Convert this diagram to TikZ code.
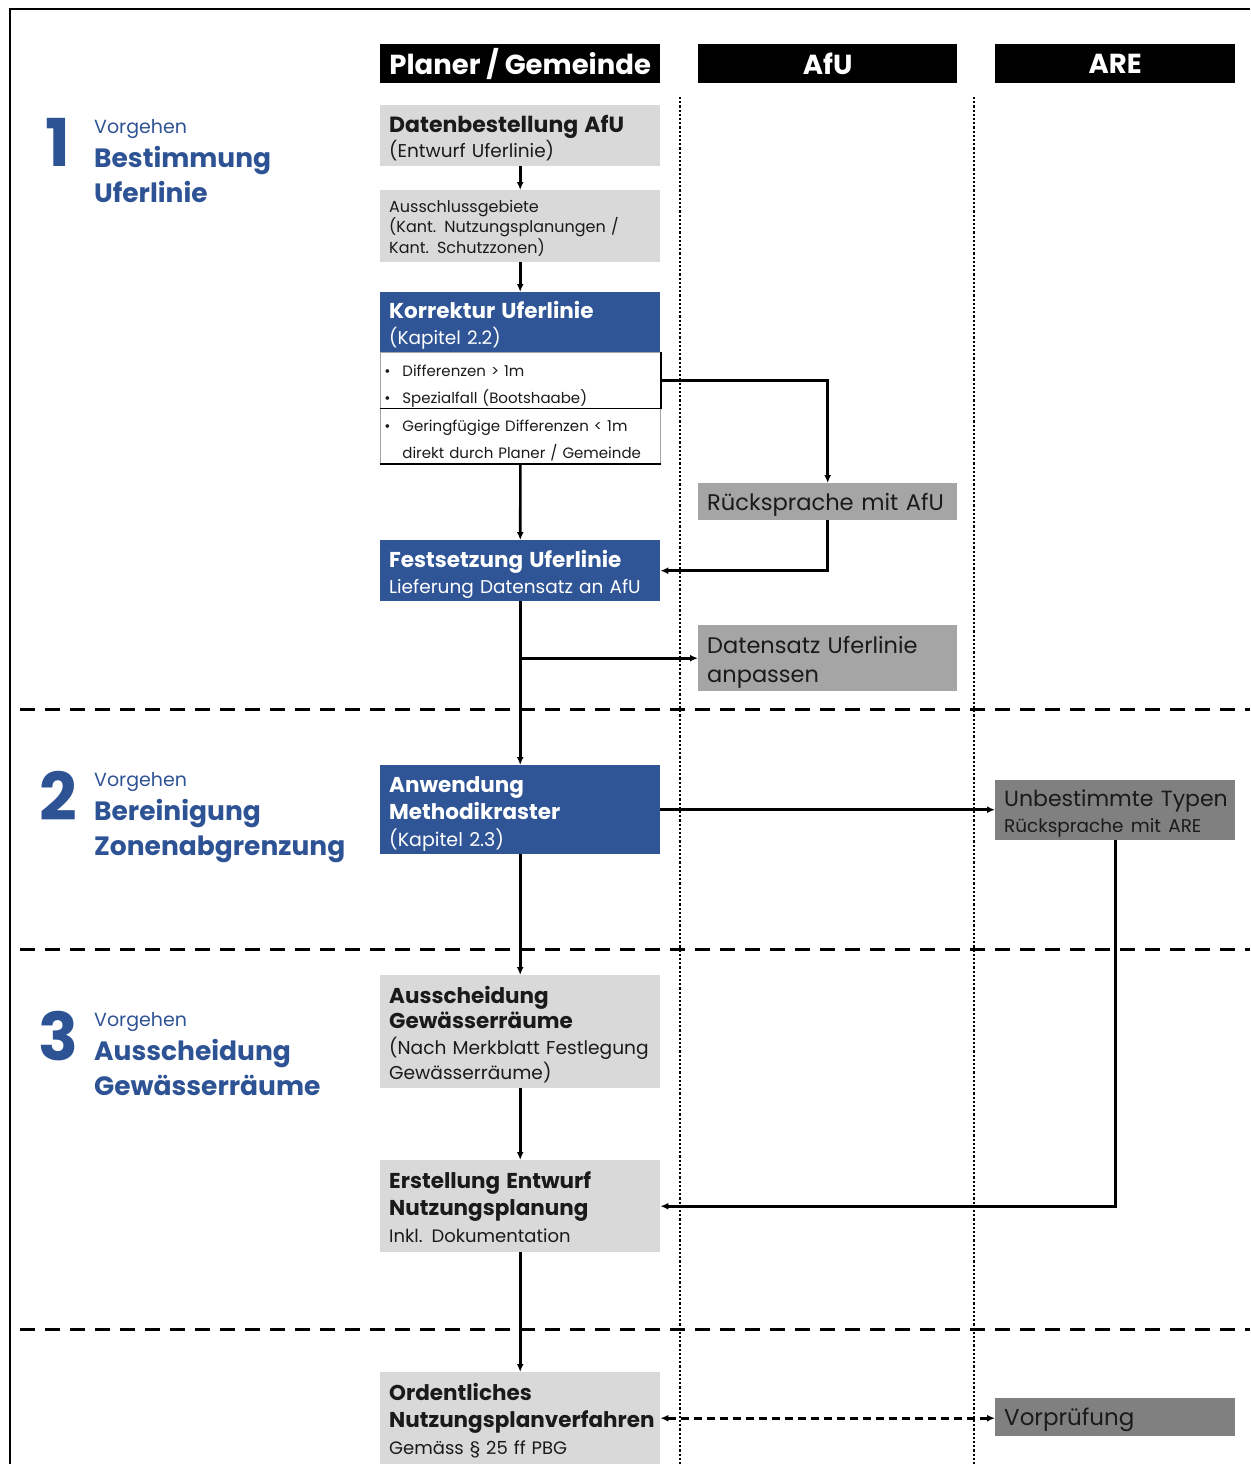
\documentclass[tikz,border=0pt]{standalone}
\usepackage{fontspec}
\setmainfont{Poppins}
\usetikzlibrary{arrows.meta}
\definecolor{boxblue}{HTML}{2F5597}
\definecolor{labblue}{HTML}{2E5395}
\definecolor{lgray}{HTML}{D9D9D9}
\definecolor{mgray}{HTML}{A5A5A5}
\definecolor{dgray}{HTML}{808080}
\definecolor{ink}{HTML}{1A1A1A}
\newcommand{\fs}[2]{\fontsize{#1}{#2}\selectfont}
\hyphenpenalty=10000
\exhyphenpenalty=10000
\tikzset{
 base/.style={anchor=north west, inner ysep=0pt, align=left},
 pbox/.style={base, minimum width=280pt, inner xsep=9pt, text width=262pt, fill=lgray, text=ink},
 bbox/.style={pbox, fill=boxblue, text=white},
 wbox/.style={base, minimum width=280pt, inner xsep=4pt, text width=272pt, fill=white, draw=black!35, line width=0.8pt, text=ink, font=\fs{15}{27}},
 hdr/.style={anchor=north west, fill=black, text=white, inner sep=0pt, minimum height=39pt, font=\fs{27.5}{30}\bfseries, align=center},
 sbox/.style={base, inner xsep=9pt, fill=mgray, text=ink},
 dbox/.style={base, inner xsep=9pt, fill=dgray, text=ink, minimum width=240pt, text width=222pt},
 arr/.style={line width=2.6pt, -{Latex[length=8pt,width=7pt]}},
 darr/.style={line width=2.6pt, dash pattern=on 8pt off 5pt, {Latex[length=8pt,width=7pt]}-{Latex[length=8pt,width=7pt]}},
 sep/.style={line width=3pt, dash pattern=on 15pt off 10pt},
 lane/.style={line width=2.5pt, dash pattern=on 2.2pt off 2pt},
 bignum/.style={anchor=base, text=labblue, font=\fs{66}{70}\bfseries, inner sep=0pt},
 vorg/.style={anchor=base west, text=labblue, font=\fs{19}{22}, inner sep=0pt},
 ttl/.style={anchor=base west, text=labblue, font=\fs{26.5}{30}\bfseries, inner sep=0pt},
}
\newcommand{\bt}[1]{{\fs{21.5}{26}\bfseries #1}}
\newcommand{\bul}{\makebox[18pt][l]{\textbullet}}
\newcommand{\tp}[1]{\rule{0pt}{#1pt}}
\begin{document}
\begin{tikzpicture}[x=1pt,y=-1pt]
\useasboundingbox (0,0) rectangle (1250,1464);
% frame
\draw[line width=2.2pt] (10,1464) -- (10,9) -- (1250,9);
% lanes and separators
\draw[lane] (680,97) -- (680,1464);
\draw[lane] (974,97) -- (974,1464);
\draw[sep] (20,709) -- (1250,709);
\draw[sep] (20,949) -- (1250,949);
\draw[sep] (20,1329) -- (1250,1329);
% headers
\node[hdr, minimum width=280pt] (h1) at (380,44) {Planer / Gemeinde};
\node[hdr, minimum width=259pt] (h2) at (698,44) {AfU};
\node[hdr, minimum width=240pt] (h3) at (995,44) {ARE};
% section labels
\node[bignum] (n1) at (58,166) {1};
\node[vorg] (v1) at (94,133) {Vorgehen};
\node[ttl] (t1a) at (94,167) {Bestimmung};
\node[ttl] (t1b) at (94,202) {Uferlinie};
\node[bignum] (n2) at (58,820) {2};
\node[vorg] (v2) at (94,786) {Vorgehen};
\node[ttl] (t2a) at (94,820) {Bereinigung};
\node[ttl] (t2b) at (94,855) {Zonenabgrenzung};
\node[bignum] (n3) at (58,1060) {3};
\node[vorg] (v3) at (94,1026) {Vorgehen};
\node[ttl] (t3a) at (94,1060) {Ausscheidung};
\node[ttl] (t3b) at (94,1095) {Gewässerräume};
% planer column
\node[pbox, minimum height=61pt, font=\fs{18.5}{25}] (d1) at (380,105) {\tp{23}{\fs{22}{26}\bfseries Datenbestellung AfU}\\(Entwurf Uferlinie)};
\node[pbox, minimum height=72pt, font=\fs{16}{20.5}] (d2) at (380,190) {\tp{16}Ausschlussgebiete\\(Kant. Nutzungsplanungen /\\Kant. Schutzzonen)};
\node[bbox, minimum height=60pt, font=\fs{18.5}{26}] (k1) at (380,292) {\tp{23}\bt{Korrektur Uferlinie}\\(Kapitel 2.2)};
\node[wbox, minimum height=56pt] (k2) at (380,352) {\tp{23}\bul Differenzen > 1m\\\bul Spezialfall (Bootshaabe)};
\node[wbox, minimum height=55pt] (k3) at (380,408) {\tp{21}\bul Geringfügige Differenzen < 1m\\\hspace*{18pt}direkt durch Planer / Gemeinde};
\draw[line width=2.5pt] (k2.north east) -- (k2.south east);
\draw[line width=1.2pt] (k2.south west) -- (k2.south east);
\draw[line width=2.5pt] (k3.south west) -- (k3.south east);
\node[bbox, minimum height=61pt, font=\fs{18.5}{26}] (f1) at (380,540) {\tp{25}\bt{Festsetzung Uferlinie}\\Lieferung Datensatz an AfU};
\node[bbox, minimum height=89pt, font=\fs{19}{27}] (a1) at (380,765) {\tp{24}\bt{Anwendung}\\\bt{Methodikraster}\\(Kapitel 2.3)};
\node[pbox, minimum height=113pt, font=\fs{18.6}{25.5}] (au) at (380,975) {\tp{23}\bt{Ausscheidung}\\\bt{Gewässerräume}\\\mbox{(Nach Merkblatt Festlegung}\\Gewässerräume)};
\node[pbox, minimum height=92pt, font=\fs{18}{27}] (er) at (380,1160) {\tp{19}\bt{Erstellung Entwurf}\\\bt{Nutzungsplanung}\\Inkl. Dokumentation};
\node[pbox, minimum height=92pt, font=\fs{18}{27}] (onp) at (380,1372) {\tp{22}\bt{Ordentliches}\\\bt{Nutzungsplanverfahren}\\Gemäss § 25 ff PBG};
% AfU column
\node[sbox, minimum width=259pt, text width=241pt, minimum height=37pt, font=\fs{22.6}{28}] (r1) at (698,483) {\tp{23}Rücksprache mit AfU};
\node[sbox, minimum width=259pt, text width=241pt, minimum height=66pt, font=\fs{22.5}{29}] (ds) at (698,625) {\tp{25}Datensatz Uferlinie\\anpassen};
% ARE column
\node[dbox, minimum height=60pt, font=\fs{22}{26}] (ub) at (995,780) {\tp{23}\mbox{Unbestimmte Typen}\\{\fs{18.4}{26}Rücksprache mit ARE}};
\node[dbox, minimum height=38pt, font=\fs{23}{28}] (vp) at (995,1398) {\tp{23}Vorprüfung};
% connectors
\draw[arr] (d1) -- (d2);
\draw[arr] (d2) -- (k1);
\draw[arr] (k2.east) -| (r1.north);
\draw[arr] (r1.south) |- (f1.east);
\draw[arr] (k3) -- (f1);
\draw[arr] (f1) -- (a1);
\coordinate (br) at (f1.south |- ds.west);
\draw[arr] (br) -- (ds.west);
\draw[arr] (a1.east) -- (a1.east -| ub.west);
\draw[arr] (ub.south) |- (er.east);
\draw[arr] (a1) -- (au);
\draw[arr] (au) -- (er);
\draw[arr] (er) -- (onp);
\draw[darr] (onp.east) -- (onp.east -| vp.west);
\end{tikzpicture}
\end{document}
